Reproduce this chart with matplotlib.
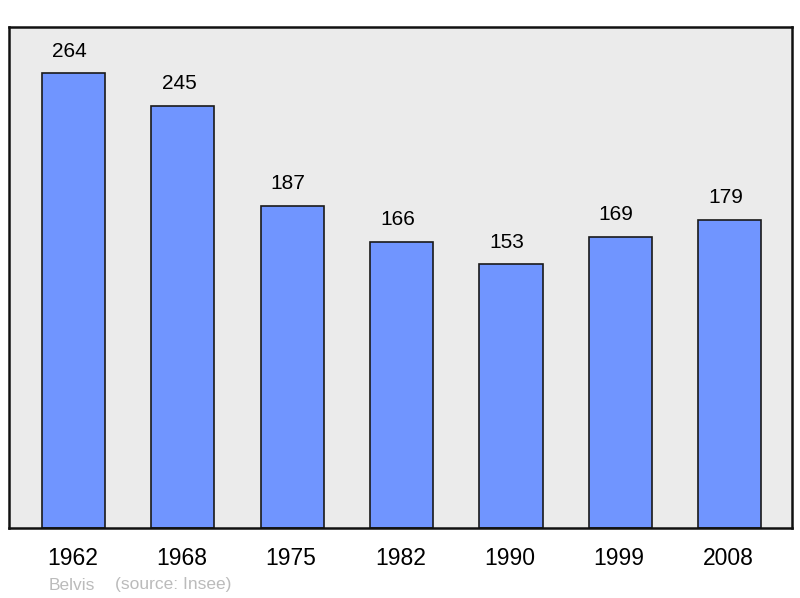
import matplotlib
matplotlib.use("Agg")
import matplotlib.pyplot as plt
import numpy as np

# Population of Belvis by census year
years = ["1962", "1968", "1975", "1982", "1990", "1999", "2008"]
population = [264, 245, 187, 166, 153, 169, 179]

plt.rcParams["font.family"] = ["Liberation Sans", "DejaVu Sans"]

BAR_COLOR = "#7095ff"
BG_COLOR = "#ebebeb"

fig = plt.figure(figsize=(8.0, 5.98), dpi=100)
ax = fig.add_axes([9 / 800, 70 / 598, 783 / 800, 501 / 598])
ax.set_facecolor(BG_COLOR)

x = np.arange(len(years))
ax.bar(x, population, width=0.578, color=BAR_COLOR, edgecolor="#1a1a1a",
       linewidth=1.2, zorder=2)

# value labels sit a bit left of the bar centre in the original
for xi, v in zip(x, population):
    ax.annotate(str(v), (xi, v), xytext=(-4 * 0.72, 22 * 0.72),
                textcoords="offset points", ha="center", va="center",
                fontsize=15, color="#000000")

ax.set_xlim(-0.59, len(years) - 1 + 0.57)
ax.set_ylim(0, 290.7)
ax.set_yticks([])
ax.set_xticks(x - 0.01)
ax.set_xticklabels(years, fontsize=16.5, color="#000000")
ax.tick_params(axis="x", length=0, pad=14)

for s in ax.spines.values():
    s.set_linewidth(1.8)
    s.set_color("#111111")

fig.text(49 / 800, 1 - 585 / 598, "Belvis", fontsize=12.5, color="#bbbbbb", va="center")
fig.text(115 / 800, 1 - 585 / 598, "(source: Insee)", fontsize=12.5, color="#bbbbbb",
         va="center")

fig.savefig("out.png", dpi=100)
